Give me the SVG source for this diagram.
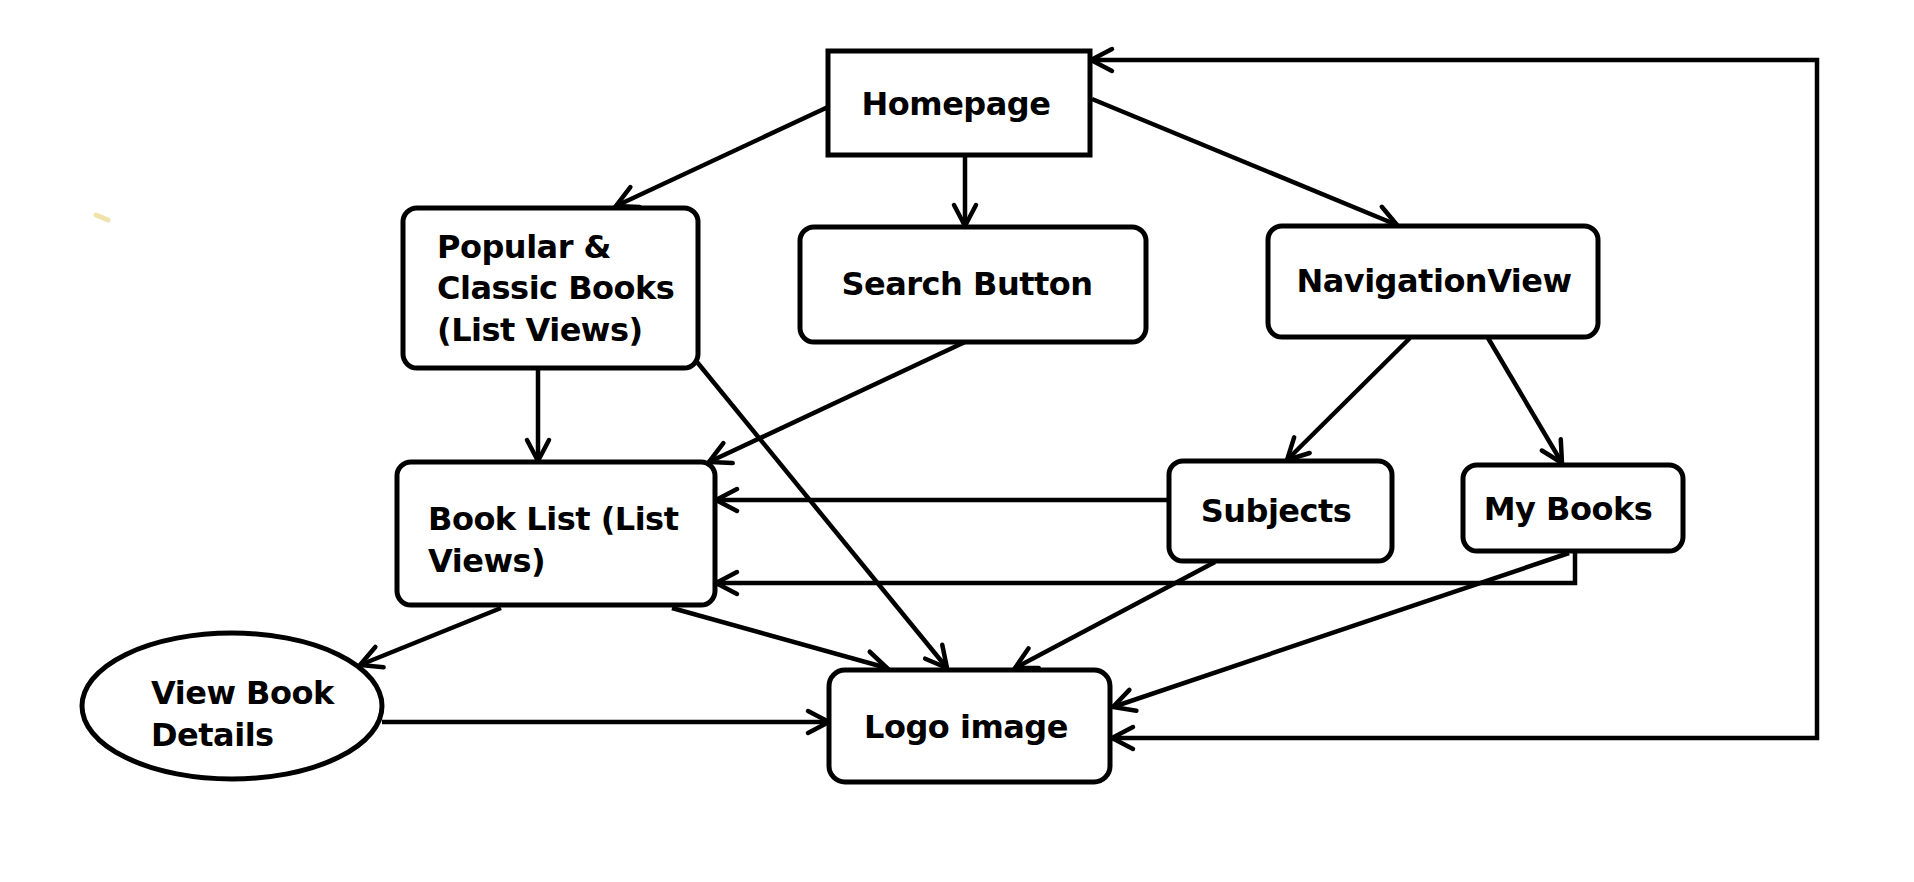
<svg xmlns="http://www.w3.org/2000/svg" width="1914" height="882" viewBox="0 0 1914 882">
<defs>
<marker id="arr" markerUnits="userSpaceOnUse" markerWidth="40" markerHeight="40" viewBox="-30 -20 40 40" refX="0" refY="0" orient="auto-start-reverse">
<path d="M-21,-11 L0,0 L-21,11" fill="none" stroke="#000" stroke-width="4.5" stroke-linecap="round" stroke-linejoin="miter"/>
</marker>
<style>
.box{fill:#fff;stroke:#000;stroke-width:5}
.t{font-family:"DejaVu Sans","Verdana",sans-serif;font-weight:bold;font-size:32px;letter-spacing:-0.5px;fill:#000}
.c{text-anchor:middle}
.e{fill:none;stroke:#000;stroke-width:4.5;marker-end:url(#arr)}
</style>
</defs>
<rect width="1914" height="882" fill="#fff"/>
<line x1="96" y1="215" x2="108" y2="220" stroke="#f0e2ab" stroke-width="5" stroke-linecap="round"/>
<g id="connectors">
<line class="e" x1="828" y1="107" x2="616" y2="206"/>
<line class="e" x1="965" y1="155" x2="965" y2="226"/>
<line class="e" x1="1092" y1="99" x2="1397" y2="225"/>
<line class="e" x1="538" y1="368" x2="538" y2="461"/>
<line class="e" x1="697" y1="362" x2="947" y2="668"/>
<line class="e" x1="965" y1="342" x2="709" y2="462"/>
<line class="e" x1="1410" y1="338" x2="1287" y2="460"/>
<line class="e" x1="1488" y1="338" x2="1562" y2="463"/>
<line class="e" x1="1169" y1="500" x2="716" y2="500"/>
<polyline class="e" points="1575,551 1575,583 716,583"/>
<line class="e" x1="501" y1="608" x2="360" y2="665"/>
<line class="e" x1="672" y1="608" x2="887" y2="668"/>
<line class="e" x1="382" y1="722" x2="829" y2="722"/>
<line class="e" x1="1215" y1="562" x2="1015" y2="668"/>
<line class="e" x1="1569" y1="553" x2="1113" y2="707"/>
<polyline class="e" style="marker-start:url(#arr)" points="1112,738 1817,738 1817,60 1091,60"/>
</g>
<g id="homepage">
<rect class="box" x="828" y="51" width="262" height="104"/>
<text class="t c" x="956" y="115">Homepage</text>
</g>
<g id="popular">
<rect class="box" x="403" y="208" width="295" height="160" rx="14"/>
<text class="t" x="437" y="258">Popular &amp;</text>
<text class="t" x="437" y="299">Classic Books</text>
<text class="t" x="437" y="341">(List Views)</text>
</g>
<g id="search">
<rect class="box" x="800" y="227" width="346" height="115" rx="14"/>
<text class="t c" x="967" y="295">Search Button</text>
</g>
<g id="navigation">
<rect class="box" x="1268" y="226" width="330" height="111" rx="14"/>
<text class="t c" x="1434" y="292">NavigationView</text>
</g>
<g id="booklist">
<rect class="box" x="397" y="462" width="318" height="143" rx="14"/>
<text class="t" x="428" y="530">Book List (List</text>
<text class="t" x="428" y="572">Views)</text>
</g>
<g id="subjects">
<rect class="box" x="1169" y="461" width="223" height="100" rx="14"/>
<text class="t c" x="1276" y="522">Subjects</text>
</g>
<g id="mybooks">
<rect class="box" x="1463" y="465" width="220" height="86" rx="14"/>
<text class="t c" x="1568" y="520">My Books</text>
</g>
<g id="viewbook">
<ellipse class="box" cx="232" cy="706" rx="150" ry="73"/>
<text class="t" x="151" y="704">View Book</text>
<text class="t" x="151" y="746">Details</text>
</g>
<g id="logo">
<rect class="box" x="829" y="670" width="281" height="112" rx="16"/>
<text class="t c" x="966" y="738">Logo image</text>
</g>
</svg>
